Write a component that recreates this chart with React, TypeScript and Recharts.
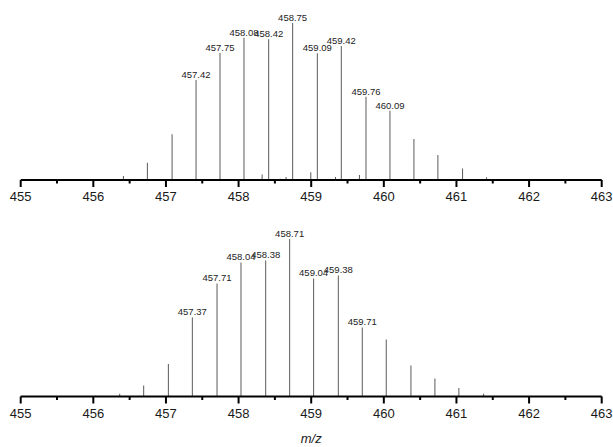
import React from 'react';
import { BarChart, Bar, XAxis, YAxis, LabelList } from 'recharts';

// measured spectrum (top) - m/z positions and relative intensity
const topMz = [
  456.42, 456.75, 457.09, 457.23, 457.42, 457.58, 457.75, 457.93, 458.08, 458.2,
  458.33, 458.42, 458.58, 458.66, 458.75, 458.92, 459.0, 459.09, 459.34, 459.42,
  459.67, 459.76, 459.92, 460.09, 460.42, 460.75, 461.09, 461.42,
];
const topIntensity = [
  2.5, 11.0, 29.1, 0.6, 63.7, 0.6, 80.9, 0.6, 90.6, 0.6,
  3.5, 89.6, 0.8, 1.9, 100, 0.6, 4.9, 80.7, 1.9, 85.4,
  3.2, 53.1, 0.6, 44.1, 26.1, 15.9, 7.3, 1.7,
];
const topLabels = ['457.42', '457.75', '458.08', '458.42', '458.75', '459.09', '459.42', '459.76', '460.09'];

// simulated isotope pattern (bottom)
const bottomMz = [
  456.04, 456.37, 456.7, 457.04, 457.37, 457.71, 458.04, 458.38, 458.71,
  459.04, 459.38, 459.71, 460.04, 460.38, 460.71, 461.04, 461.38, 461.71,
];
const bottomIntensity = [
  0.6, 1.7, 7.0, 20.6, 50.2, 71.7, 85.1, 86.3, 100,
  74.9, 76.8, 43.8, 36.2, 19.7, 11.4, 5.4, 1.7, 0.3,
];
const bottomLabels = ['457.37', '457.71', '458.04', '458.38', '458.71', '459.04', '459.38', '459.71'];

const mzTicks = [455, 455.5, 456, 456.5, 457, 457.5, 458, 458.5, 459, 459.5, 460, 460.5, 461, 461.5, 462, 462.5, 463];

const font = '"Liberation Sans", Arial, sans-serif';
const stickColor = '#5a5a5a';

const buildRows = (mz: number[], intensity: number[], labels: string[]) =>
  mz.map((m, i) => {
    const txt = m.toFixed(2);
    return { mz: m, intensity: intensity[i], label: labels.includes(txt) ? txt : undefined };
  });

const topData = buildRows(topMz, topIntensity, topLabels);
const bottomData = buildRows(bottomMz, bottomIntensity, bottomLabels);

const MzTick = (props: any) => {
  const { x, y, payload } = props;
  const major = Number.isInteger(payload.value);
  return (
    <g>
      <line x1={x} x2={x} y1={y} y2={y + (major ? 7 : 3.5)} stroke="#000" strokeWidth={2} />
      {major && (
        <text x={x} y={y + 21} textAnchor="middle" fontSize={13} fontFamily={font} fill="#1a1a1a">
          {payload.value}
        </text>
      )}
    </g>
  );
};

const Spectrum = ({ data, height, top, axisHeight, labelOffset, showTitle }: any) => (
  <BarChart
    width={613}
    height={height}
    data={data}
    margin={{ top, right: 11.3, left: 20.7, bottom: 0 }}
    barCategoryGap={0}
  >
    <XAxis
      type="number"
      dataKey="mz"
      domain={[455, 463]}
      ticks={mzTicks}
      interval={0}
      allowDataOverflow
      height={axisHeight}
      tickSize={0}
      tickMargin={0}
      tickLine={false}
      axisLine={{ stroke: '#000', strokeWidth: 2 }}
      tick={<MzTick />}
      label={
        showTitle
          ? { value: 'm/z', position: 'insideBottom', offset: 4, fontSize: 13, fontStyle: 'italic', fontFamily: font, fill: '#1a1a1a' }
          : undefined
      }
    />
    <YAxis hide domain={[0, 100]} />
    <Bar dataKey="intensity" fill={stickColor} barSize={1} isAnimationActive={false}>
      <LabelList dataKey="label" position="top" offset={labelOffset} fontSize={9.5} fontFamily={font} fill="#222" />
    </Bar>
  </BarChart>
);

export default function App() {
  return (
    <div style={{ position: 'absolute', left: 0, top: 0, width: 613, height: 447, background: '#fff' }}>
      <div style={{ position: 'absolute', left: 0, top: 0 }}>
        <Spectrum data={topData} height={205} top={23} axisHeight={25} labelOffset={2} />
      </div>
      <div style={{ position: 'absolute', left: 0, top: 215 }}>
        <Spectrum data={bottomData} height={232} top={24} axisHeight={50.5} labelOffset={2.5} showTitle />
      </div>
    </div>
  );
}
